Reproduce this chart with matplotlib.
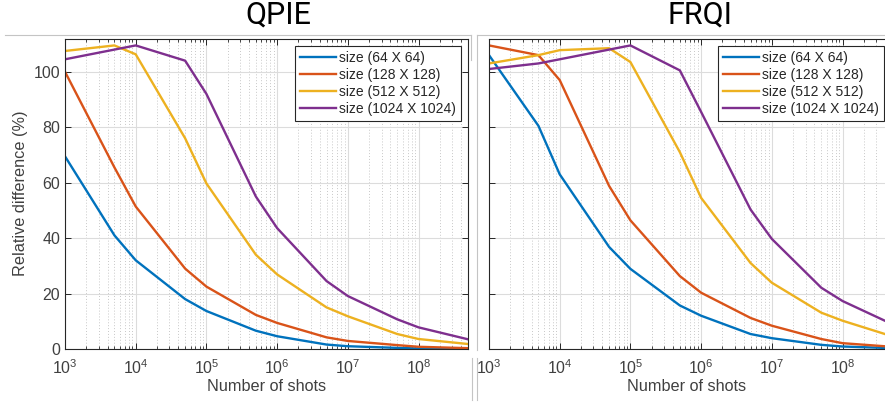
import numpy as np
import matplotlib
matplotlib.use('Agg')
import matplotlib.pyplot as plt
from matplotlib.lines import Line2D
from matplotlib.ticker import LogLocator, NullFormatter, FixedLocator

plt.rcParams['font.family'] = ['Liberation Sans', 'DejaVu Sans']

# shots at which both encodings were measured
shots = [1e3, 5e3, 1e4, 5e4, 1e5, 5e5, 1e6, 5e6, 1e7, 5e7, 1e8, 5e8]
labels = ['size (64 X 64)', 'size (128 X 128)', 'size (512 X 512)', 'size (1024 X 1024)']
colors = ['#0072BD', '#D95319', '#EDB120', '#7E2F8E']

# relative difference (%), QPIE
qpie_64 = [69.5, 41, 32, 18, 13.7, 6.6, 4.6, 1.6, 1.0, 0.4, 0.2, 0.1]
qpie_128 = [100, 65.5, 51.4, 29, 22.5, 12.3, 9.4, 4.2, 2.9, 1.4, 0.8, 0.3]
qpie_512 = [107.5, 109.5, 106.3, 76, 59.7, 34, 26.9, 15, 11.8, 5.4, 3.6, 1.8]
qpie_1024 = [104.5, 108, 109.5, 104, 92, 55, 43.6, 24.5, 19.1, 10.7, 7.8, 3.5]

# relative difference (%), FRQI
frqi_64 = [106, 80.5, 63, 36.8, 28.9, 15.7, 12, 5.4, 3.9, 1.5, 0.9, 0.3]
frqi_128 = [109.5, 106, 97, 58.8, 46.4, 26.3, 20.3, 11.2, 8.4, 3.6, 2.1, 0.8]
frqi_512 = [103, 106, 107.8, 108.5, 103.5, 71, 54.5, 31, 23.9, 13.1, 10.2, 4.6]
frqi_1024 = [101, 103, 104.5, 108, 109.5, 100.5, 85.5, 50.3, 39.7, 22.1, 17.3, 9]

W, H = 885, 408
fig = plt.figure(figsize=(W / 100, H / 100), dpi=100)

top, bot = 38.5, 349
ax1 = fig.add_axes([65 / W, 1 - bot / H, (468 - 65) / W, (bot - top) / H])
ax2 = fig.add_axes([489 / W, 1 - bot / H, (885 - 489) / W, (bot - top) / H])

tick_col = '#404040'
for ax, series, xmax in [(ax1, [qpie_64, qpie_128, qpie_512, qpie_1024], 5e8),
                         (ax2, [frqi_64, frqi_128, frqi_512, frqi_1024], 10 ** 8.6)]:
    for vals, lab, c in zip(series, labels, colors):
        ax.plot(shots, vals, color=c, lw=1.7, label=lab, solid_joinstyle='round')
    ax.set_xscale('log')
    ax.set_xlim(1e3, xmax)
    ax.set_ylim(0, 112)
    ax.yaxis.set_major_locator(FixedLocator([0, 20, 40, 60, 80, 100]))
    ax.xaxis.set_major_locator(LogLocator(base=10, numticks=20))
    ax.xaxis.set_minor_locator(LogLocator(base=10, subs=np.arange(2, 10), numticks=20))
    ax.xaxis.set_minor_formatter(NullFormatter())
    ax.grid(True, which='major', color='#dcdcdc', lw=0.8, ls='-')
    ax.grid(True, which='minor', axis='x', color='#c8c8c8', lw=0.7, ls=(0, (1, 2)))
    ax.set_axisbelow(True)
    ax.tick_params(which='both', direction='in', top=True, right=True,
                   colors='#262626', labelcolor=tick_col, labelsize=11.5)
    ax.tick_params(which='major', length=4, width=0.7)
    ax.tick_params(which='minor', length=2, width=0.6)
    ax.tick_params(axis='x', pad=7)
    for s in ax.spines.values():
        s.set_color('#262626')
        s.set_linewidth(0.8)
    ax.set_xlabel('Number of shots', fontsize=11.7, color=tick_col, labelpad=1)

ax2.spines['right'].set_visible(False)
ax2.tick_params(labelleft=False, right=False)
ax1.set_ylabel('Relative difference (%)', fontsize=11.7, color=tick_col, labelpad=4)

for ax, x0 in [(ax1, 295), (ax2, 718)]:
    leg = ax.legend(loc='upper left', bbox_to_anchor=(x0 / W, 1 - 46 / H),
                    bbox_transform=fig.transFigure, borderaxespad=0,
                    fancybox=False, framealpha=1, edgecolor='#262626',
                    fontsize=10, handlelength=2.6, handletextpad=0.25,
                    labelspacing=0.22, borderpad=0.35)
    leg.get_frame().set_linewidth(0.8)
    for t in leg.get_texts():
        t.set_color('#262626')

fig.text(278 / W, 1 - 15 / H, 'QPIE', fontsize=22, family='Roboto', ha='center', va='center')
fig.text(700 / W, 1 - 15 / H, 'FRQI', fontsize=22, family='Roboto', ha='center', va='center')

# screenshot borders
sep = '#c4c4c4'
fig.add_artist(Line2D([5 / W, 471 / W], [1 - 35 / H] * 2, color=sep, lw=0.8))
fig.add_artist(Line2D([477 / W, 1], [1 - 35 / H] * 2, color=sep, lw=0.8))
fig.add_artist(Line2D([471 / W] * 2, [1 - 35 / H, 1 - 60 / H], color=sep, lw=0.8))
fig.add_artist(Line2D([477 / W] * 2, [1 - 35 / H, 1 - 350 / H], color=sep, lw=0.8))
fig.add_artist(Line2D([472 / W] * 2, [1 - 358 / H, 1 - 400 / H], color=sep, lw=0.8))
fig.add_artist(Line2D([477 / W] * 2, [1 - 358 / H, 1 - 400 / H], color=sep, lw=0.8))

fig.savefig('out.png', dpi=100)
